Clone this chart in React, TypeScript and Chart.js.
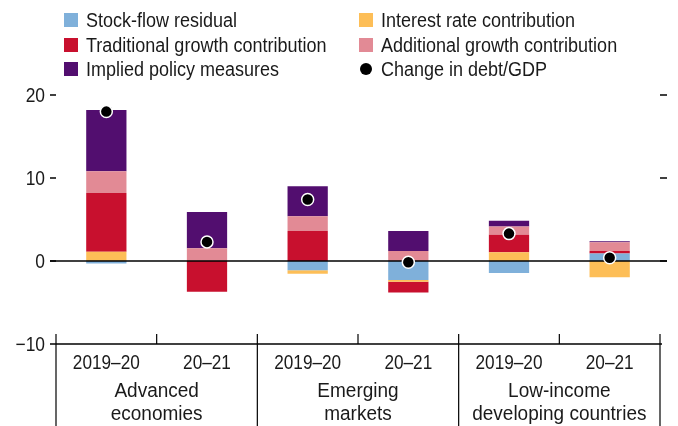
import React, { useEffect, useRef } from "react";
import { Chart, registerables } from "chart.js";

Chart.register(...registerables);

const categories = ["2019–20", "20–21", "2019–20", "20–21", "2019–20", "20–21"];
const groupLabels = [["Advanced", "economies"], ["Emerging", "markets"], ["Low-income", "developing countries"]];
const yTicks = [20, 10, 0, -10];

const stockFlow = [-0.3, 0, -1.1, -2.3, -1.45, 0.9];
const interest = [1.1, 0, -0.45, -0.2, 1.05, -1.95];
const traditional = [7.1, -3.7, 3.6, -1.3, 2.1, 0.3];
const additional = [2.6, 1.55, 1.8, 1.2, 1.0, 1.05];
const implied = [7.4, 4.35, 3.6, 2.4, 0.7, 0.12];
const changeDebt = [18.0, 2.3, 7.4, -0.15, 3.3, 0.4];

const seriesNames = [
  "Stock-flow residual",
  "Interest rate contribution",
  "Traditional growth contribution",
  "Additional growth contribution",
  "Implied policy measures",
  "Change in debt/GDP",
];
const colors = ["#7FB0DA", "#FDBE57", "#C8102E", "#E28A95", "#520E6F", "#000000"];

const FONT = '"Liberation Sans", Arial, sans-serif';
const TEXT = "#1a1a1a";

const fmt = (v: number) => (v < 0 ? "\u2212" + Math.abs(v) : String(v));

function drawText(ctx: CanvasRenderingContext2D, text: string, x: number, y: number, align: CanvasTextAlign, sx: number) {
  ctx.save();
  ctx.translate(x, y);
  ctx.scale(sx, 1);
  ctx.textAlign = align;
  ctx.textBaseline = "middle";
  ctx.fillText(text, 0, 0);
  ctx.restore();
}

const customPlugin = {
  id: "custom",
  beforeDatasetDraw(chart: any, args: any) {
    if (args.index !== 5) return;
    const ctx = chart.ctx;
    const y = chart.scales.y.getPixelForValue(0);
    const { left, right } = chart.chartArea;
    ctx.save();
    ctx.strokeStyle = "#000";
    ctx.lineWidth = 1.5;
    ctx.beginPath();
    ctx.moveTo(left - 6, y);
    ctx.lineTo(right + 7, y);
    ctx.stroke();
    ctx.restore();
  },
  afterDraw(chart: any) {
    const ctx = chart.ctx;
    const ys = chart.scales.y;
    const xs = chart.scales.x;
    const { left, right } = chart.chartArea;
    ctx.save();
    ctx.fillStyle = TEXT;
    ctx.strokeStyle = "#000";
    ctx.lineWidth = 1.5;
    ctx.font = `20px ${FONT}`;
    // y ticks + labels
    yTicks.forEach((v) => {
      const y = ys.getPixelForValue(v);
      drawText(ctx, fmt(v), left - 11, y + 1, "right", 0.87);
      ctx.beginPath();
      ctx.moveTo(left - 6, y);
      ctx.lineTo(left, y);
      ctx.stroke();
      if (v >= 0) {
        ctx.beginPath();
        ctx.moveTo(right, y);
        ctx.lineTo(right + 7, y);
        ctx.stroke();
      }
    });
    // x axis baseline
    const yb = ys.getPixelForValue(ys.min);
    ctx.beginPath();
    ctx.moveTo(left, yb);
    ctx.lineTo(right + 2, yb);
    ctx.stroke();
    // ticks between categories and group separators
    const n = categories.length;
    ctx.lineWidth = 1.2;
    for (let i = 0; i <= n; i++) {
      const x = i === n ? right : i === 0 ? left : (xs.getPixelForValue(i - 1) + xs.getPixelForValue(i)) / 2;
      ctx.beginPath();
      ctx.moveTo(x, yb - 10);
      ctx.lineTo(x, i % 2 === 0 ? chart.height : yb);
      ctx.stroke();
    }
    // category labels
    categories.forEach((c, i) => {
      drawText(ctx, c, xs.getPixelForValue(i), yb + 19, "center", 0.86);
    });
    groupLabels.forEach((lines, g) => {
      const cx = (xs.getPixelForValue(2 * g) + xs.getPixelForValue(2 * g + 1)) / 2;
      lines.forEach((t, k) => drawText(ctx, t, cx, yb + 47 + k * 23, "center", 0.95));
    });
    // legend
    const colX = [64, 359];
    const rowY = [20, 45, 69];
    seriesNames.forEach((name, i) => {
      const col = i % 2;
      const row = Math.floor(i / 2);
      const x = colX[col];
      const y = rowY[row];
      if (i < 5) {
        ctx.fillStyle = colors[i];
        ctx.fillRect(x, y - 7, 14, 14);
      } else {
        ctx.fillStyle = "#000";
        ctx.beginPath();
        ctx.arc(x + 7, y, 6, 0, Math.PI * 2);
        ctx.fill();
      }
      ctx.fillStyle = TEXT;
      drawText(ctx, name, x + 22, y + 1, "left", 0.9);
    });
    ctx.restore();
  },
};

export default function App() {
  const ref = useRef<HTMLCanvasElement | null>(null);
  useEffect(() => {
    if (!ref.current) return;
    const barSeries = [stockFlow, interest, traditional, additional, implied];
    const datasets: any[] = barSeries.map((d, i) => ({
      type: "bar",
      label: seriesNames[i],
      data: d,
      backgroundColor: colors[i],
      borderWidth: 0,
      barPercentage: 0.4,
      categoryPercentage: 1,
      order: 1,
    }));
    datasets.push({
      type: "line",
      label: seriesNames[5],
      data: changeDebt,
      showLine: false,
      pointRadius: 6,
      pointBackgroundColor: "#000",
      pointBorderColor: "#fff",
      pointBorderWidth: 1.5,
      stack: "dots",
      order: 0,
    });
    const chart = new Chart(ref.current, {
      type: "bar",
      data: { labels: categories, datasets },
      options: {
        responsive: false,
        animation: false,
        layout: { padding: { left: 56, right: 18, top: 95, bottom: 82 } },
        plugins: { legend: { display: false }, tooltip: { enabled: false } },
        scales: {
          x: { display: false, stacked: true, offset: true },
          y: { display: false, stacked: true, min: -10, max: 20 },
        },
      },
      plugins: [customPlugin],
    } as any);
    return () => chart.destroy();
  }, []);
  return (
    <div style={{ position: "fixed", left: 0, top: 0, width: 678, height: 426, background: "#fff" }}>
      <canvas ref={ref} width={678} height={426} style={{ width: 678, height: 426 }} />
    </div>
  );
}
